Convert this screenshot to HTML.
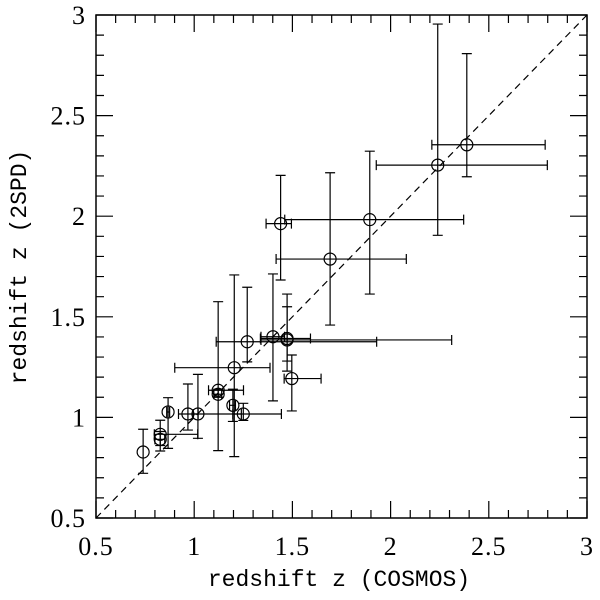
<!DOCTYPE html>
<html><head><meta charset="utf-8"><style>
body{margin:0;background:#fff;}
svg text{font-family:"Liberation Serif",serif;fill:#000;}
svg text.title{font-family:"Liberation Mono",monospace;}
</style></head><body>
<svg id="chart" width="600" height="595" viewBox="0 0 600 595" xmlns="http://www.w3.org/2000/svg">
<g id="frame"></g>
<g id="marks"></g>
<text class="title" x="339" y="586" font-size="23" text-anchor="middle">redshift z (COSMOS)</text>
<text class="title" transform="translate(26,267) rotate(-90)" font-size="23" text-anchor="middle">redshift z (2SPD)</text>
</svg>
<script>
const xs   = [2.388,2.24,1.894,1.44,1.692,1.401,1.473,1.473,1.27,1.204,1.497,1.122,1.122,1.197,1.25,1.019,0.968,0.867,0.827,0.827,0.74];
const ys   = [2.355,2.254,1.983,1.963,1.787,1.401,1.392,1.385,1.376,1.247,1.193,1.135,1.115,1.06,1.017,1.017,1.017,1.027,0.916,0.891,0.828];
const xLo  = [2.21,1.927,1.461,1.366,1.417,1.34,1.337,1.34,1.112,0.901,1.458,1.073,1.10,1.18,1.197,0.995,0.92,0.86,0.797,0.80,0.74];
const xHi  = [2.787,2.798,2.372,1.495,2.08,1.46,1.592,2.311,1.929,1.386,1.646,1.251,1.14,1.21,1.444,1.24,1.02,0.875,1.018,0.85,0.74];
const yLo  = [2.196,1.905,1.613,1.683,1.459,1.082,1.28,1.23,1.276,0.805,1.032,0.835,1.10,0.98,0.985,0.896,0.937,0.846,0.833,0.86,0.722];
const yHi  = [2.808,2.955,2.323,2.203,2.216,1.713,1.613,1.55,1.647,1.708,1.31,1.575,1.14,1.14,1.07,1.214,1.166,1.098,0.986,0.93,0.941];
const tickLabels = ["0.5","1","1.5","2","2.5","3"];
const tickVals = [0.5,1,1.5,2,2.5,3];

const L=96,R=587,T=15,B=518;
const sx=v=>L+(v-0.5)/2.5*(R-L);
const sy=v=>B-(v-0.5)/2.5*(B-T);
const NS="http://www.w3.org/2000/svg";
function mk(tag,attrs,parent){const e=document.createElementNS(NS,tag);for(const k in attrs)e.setAttribute(k,attrs[k]);parent.appendChild(e);return e;}
const frame=document.getElementById('frame'), marks=document.getElementById('marks'), svg=document.getElementById('chart');
const box=mk('rect',{x:L,y:T,width:R-L,height:B-T,fill:'none',stroke:'#000','stroke-width':1.5},frame);


for(let i=0;i<=25;i++){
  const v=0.5+i*0.1, major=(i%5===0), len=major?17:8;
  const x=sx(v), y=sy(v);
  const t=mk('path',{d:`M${x},${B}v${-len}M${x},${T}v${len}M${L},${y}h${len}M${R},${y}h${-len}`,stroke:'#000','stroke-width':1.2,fill:'none'},frame);
  
  
}
tickVals.forEach((v,i)=>{
  const tx=mk('text',{x:sx(v),y:B+37,'font-size':26,'text-anchor':'middle','letter-spacing':1},svg);
  tx.textContent=tickLabels[i];
  
  
  const ty=mk('text',{x:L-10,y:sy(v)+9,'font-size':26,'text-anchor':'end','letter-spacing':1},svg);
  ty.textContent=tickLabels[i];
  
  
});
const diag=mk('line',{x1:sx(0.5),y1:sy(0.5),x2:sx(3),y2:sy(3),stroke:'#000','stroke-width':1.2,'stroke-dasharray':'7,5'},frame);


for(let i=0;i<xs.length;i++){
  const cx=sx(xs[i]),cy=sy(ys[i]),x0=sx(xLo[i]),x1=sx(xHi[i]),y0=sy(yLo[i]),y1=sy(yHi[i]);
  const g=mk('g',{stroke:'#000','stroke-width':1.2,fill:'none'},marks);
  
  
  mk('path',{d:`M${x0},${cy}H${x1}M${x0},${cy-5}v10M${x1},${cy-5}v10M${cx},${y0}V${y1}M${cx-5},${y0}h10M${cx-5},${y1}h10`},g);
  mk('circle',{cx:cx,cy:cy,r:6},g);
}
</script>
</body></html>
